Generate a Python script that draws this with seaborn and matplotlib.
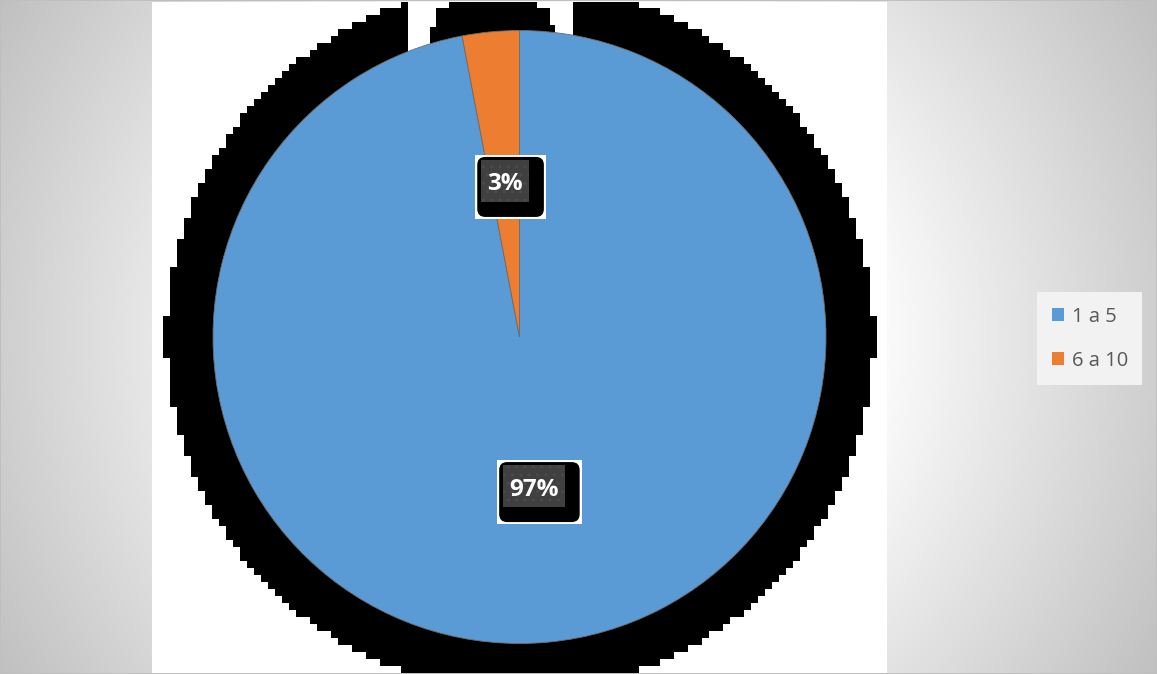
import numpy as np
import matplotlib
matplotlib.use("Agg")
import matplotlib.pyplot as plt
import seaborn as sns
from matplotlib.patches import Rectangle, FancyBboxPatch, Patch
from matplotlib.transforms import IdentityTransform

# ---- data ----
categories = ["1 a 5", "6 a 10"]
shares = [97, 3]
colors = ["#5B9BD5", "#ED7D31"]

W, H = 1157, 674
sns.set_theme(style="white")
plt.rcParams["font.family"] = ["Open Sans", "DejaVu Sans"]
palette = sns.color_palette(colors)

fig = plt.figure(figsize=(W / 100, H / 100), dpi=100)

# ---- background: radial grey gradient, white plot area, pixelated black ring ----
yy, xx = np.mgrid[0:H, 0:W]
d = np.hypot(xx - 578, yy - 337)
v = (255 - 63 * np.clip((d - 280) / 389, 0, 1)) / 255.0
img = np.dstack([v, v, v])
img[2:, 152:887] = 1.0

cx, cy, R, b = 519.5, 337.0, 354.0, 7.0
bx = (np.floor((xx - cx) / b) + 0.5) * b
by = (np.floor((yy - cy) / b) + 0.5) * b
ring = np.hypot(bx, by) < R
ring &= (yy >= 2) & (xx >= 152) & (xx < 887)
for x0, x1, ytop in [(408, 430, 337), (555, 573, 337), (430, 436, 27),
                     (436, 449, 8), (537, 550, 8), (550, 555, 25)]:
    ring[:ytop, x0:x1] = False
img[ring] = 0.0
img[0, :] = img[-1, :] = 0.75
img[:, 0] = img[:, -1] = 0.75

ax_bg = fig.add_axes([0, 0, 1, 1])
ax_bg.imshow(img, interpolation="nearest", aspect="auto")
ax_bg.axis("off")

# ---- pie ----
pr = 306.5
ax = fig.add_axes([(cx - pr) / W, (H - cy - pr) / H, 2 * pr / W, 2 * pr / H])
wedges, _, autotexts = ax.pie(
    shares, colors=palette, startangle=90, counterclock=False,
    autopct=lambda p: f"{p:.0f}%", pctdistance=0.5,
    wedgeprops=dict(edgecolor="#6d6d6d", linewidth=0.6),
    textprops=dict(color="white", fontweight="bold", fontsize=17.5,
                   family=["Open Sans", "DejaVu Sans"]),
)
ax.set_xlim(-1, 1)
ax.set_ylim(-1, 1)
ax.set_aspect("equal")
ax.set_facecolor("none")
ax.axis("off")

fig.canvas.draw()
renderer = fig.canvas.get_renderer()
for t in autotexts:
    t.set_zorder(10)
    ext = t.get_window_extent(renderer)
    yc = (ext.y0 + ext.y1) / 2 + 2
    gx0, gx1 = ext.x0 - 6, ext.x1 + 6
    gy0, gy1 = yc - 19.5, yc + 22.5
    kx0, kx1 = gx0 - 4, gx1 + 15
    ky0, ky1 = yc - 34.5, yc + 25.5
    wx0, wx1 = kx0 - 2, kx1 + 2
    wy0, wy1 = ky0 - 2, ky1 + 2
    white = Rectangle((wx0, wy0), wx1 - wx0, wy1 - wy0, facecolor="white",
                      edgecolor="none", transform=IdentityTransform(), zorder=6)
    black = FancyBboxPatch((kx0, ky0), kx1 - kx0, ky1 - ky0,
                           boxstyle="round,pad=0,rounding_size=8",
                           facecolor="black", edgecolor="none",
                           transform=IdentityTransform(), zorder=7)
    grey = Rectangle((gx0, gy0), gx1 - gx0, gy1 - gy0, facecolor="#404040",
                     edgecolor="#4b4b4b", linewidth=0, hatch="..",
                     transform=IdentityTransform(), zorder=8)
    for p in (white, black, grey):
        ax.add_artist(p)
        p.set_clip_on(False)

# ---- legend ----
handles = [Patch(facecolor=c, edgecolor="none", label=l)
           for c, l in zip(palette, categories)]
leg = fig.legend(handles=handles, loc="upper left",
                 bbox_to_anchor=(1037 / W, 1 - 292 / H),
                 frameon=True, fancybox=False, facecolor="#f2f2f2",
                 edgecolor="none", framealpha=1, fontsize=14.5,
                 labelcolor="#595959", handlelength=0.6, handleheight=0.6,
                 handletextpad=0.4, labelspacing=1.2, borderpad=0.72,
                 borderaxespad=0)

fig.savefig("out.png", dpi=100)
